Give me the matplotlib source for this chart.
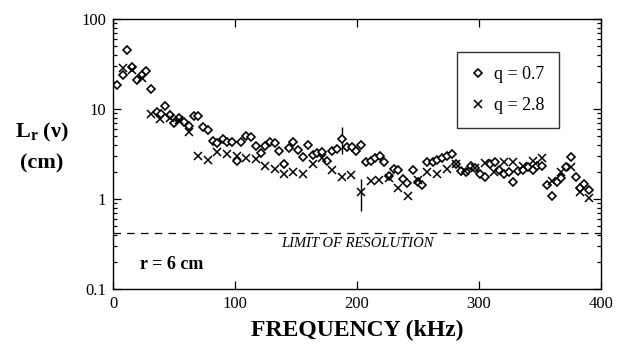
import matplotlib
matplotlib.use("Agg")
import matplotlib.pyplot as plt
from matplotlib.lines import Line2D

# ---- data ----
freq_q07 = [3.0, 8.0, 11.7, 15.6, 19.4, 23.5, 26.8, 30.9, 35.8, 39.5, 42.6, 46.7, 50.2, 54.3,
            58.2, 62.3, 66.4, 69.9, 74.0, 77.6, 81.7, 85.5, 89.9, 93.7, 97.3, 101.4, 104.9,
            109.0, 113.1, 117.0, 121.1, 124.6, 128.7, 132.8, 136.3, 140.2, 144.3, 147.8,
            151.9, 156.0, 159.6, 163.7, 167.5, 171.6, 175.7, 179.8, 183.9, 187.5, 191.6,
            195.7, 199.2, 203.0, 207.1, 211.2, 214.8, 218.9, 222.4, 226.5, 230.3, 233.9,
            238.0, 241.2, 245.6, 250.3, 253.0, 257.6, 262.0, 265.8, 269.4, 273.5, 277.6,
            281.1, 285.0, 289.3, 293.2, 296.7, 300.8, 304.9, 309.0, 313.1, 316.7, 320.5,
            324.8, 328.1, 332.2, 335.8, 339.9, 344.0, 347.8, 351.4, 355.5, 359.6, 363.7,
            367.2, 371.3, 375.2, 379.3, 382.8, 386.3, 390.2]
L_q07 = [18.5, 23.9, 45.6, 29, 21.2, 24, 26.7, 16.7, 9.3, 8.9, 10.9, 8.6, 7.0, 7.9,
         7.2, 6.4, 8.4, 8.3, 6.35, 5.8, 4.45, 4.16, 4.7, 4.33, 4.26, 2.62, 4.33,
         4.97, 4.85, 3.85, 3.25, 3.85, 4.26, 4.2, 3.45, 2.45, 3.66, 4.33,
         3.53, 2.9, 3.98, 3.08, 3.25, 3.36, 2.62, 3.45, 3.6, 4.64, 3.76,
         3.8, 3.45, 4.0, 2.56, 2.66, 2.83, 2.98, 2.56, 1.81, 2.15, 2.1,
         1.67, 1.51, 2.1, 1.56, 1.43, 2.6, 2.6, 2.71, 2.88, 2.98, 3.16,
         2.45, 2.06, 1.98, 2.34, 2.19, 1.9, 1.74, 2.45, 2.6, 2.12, 1.9,
         2.01, 1.53, 2.06, 2.12, 2.25, 2.12, 2.34, 2.34, 1.43, 1.09, 1.53,
         1.7, 2.25, 2.95, 1.77, 1.31, 1.47, 1.26]

freq_q28 = [8.0, 15.6, 23.5, 30.9, 38.5, 46.7, 54.3, 62.3, 69.9, 77.6, 85.5, 93.2, 101.4,
            109.0, 117.0, 124.6, 132.8, 140.2, 147.8, 156.0, 163.7, 171.6, 179.3, 187.5,
            194.8, 203.0, 211.2, 218.3, 226.5, 233.9, 242.0, 250.3, 257.6, 265.8, 273.5,
            281.1, 288.5, 296.7, 304.9, 312.3, 320.5, 328.1, 335.8, 344.0, 351.4, 359.6,
            367.2, 375.2, 382.8, 390.2]
L_q28 = [28.3, 27, 22, 8.7, 7.7, 8.0, 7.6, 5.6, 3.03, 2.73, 3.3, 3.16, 3.03,
         2.83, 2.78, 2.34, 2.15, 1.9, 1.98, 1.9, 2.45, 2.83, 2.12, 1.74,
         1.86, 1.19, 1.58, 1.64, 1.7, 1.31, 1.09, 1.64, 2.01, 1.9, 2.15,
         2.45, 2.06, 2.2, 2.49, 2.01, 2.56, 2.6, 2.34, 2.66, 2.83, 1.6,
         2.01, 2.25, 1.19, 1.02]

# error bars (one per series)
err_freq = [187.5, 203.0]
err_low = [3.16, 0.74]
err_high = [6.26, 1.67]

resolution_limit = 0.42
legend_labels = ["q = 0.7", "q = 2.8"]
x_ticks = [0, 100, 200, 300, 400]
y_ticks = [0.1, 1, 10, 100]
y_ticklabels = ["0.1", "1", "10", "100"]

# ---- figure ----
plt.rcParams['font.family'] = ['Liberation Serif', 'DejaVu Serif']
plt.rcParams['mathtext.fontset'] = 'custom'
plt.rcParams['mathtext.rm'] = 'Liberation Serif'
plt.rcParams['mathtext.bf'] = 'Liberation Serif:bold'

fig = plt.figure(figsize=(6.24, 3.47), dpi=100)
ax = fig.add_axes([113/624, 1 - 289/347, 488/624, 270/347])

ax.set_yscale('log')
ax.set_xlim(0, 400)
ax.set_ylim(0.1, 100)

ax.plot(freq_q07, L_q07, linestyle='none', marker='D', markersize=4.2,
        markerfacecolor='white', markeredgecolor='black', markeredgewidth=1.2, zorder=3)
ax.plot(freq_q28, L_q28, linestyle='none', marker='x', markersize=6,
        color='black', markeredgewidth=1.1, zorder=3)
ax.vlines(err_freq, err_low, err_high, color='black', linewidth=1.0, zorder=2)

ax.axhline(resolution_limit, color='black', linestyle=(0, (6, 5)), linewidth=0.9)
ax.text(200, 0.32, "LIMIT OF RESOLUTION", style='italic', fontsize=10.5,
        ha='center', va='center')
ax.text(22, 0.185, "r = 6 cm", fontweight='bold', fontsize=13, ha='left', va='center')

ax.set_xticks(x_ticks)
ax.set_xticklabels([str(t) for t in x_ticks], fontsize=12)
ax.set_yticks(y_ticks)
ax.set_yticklabels(y_ticklabels, fontsize=12)
ax.tick_params(which='both', direction='in', top=True, right=True, width=0.9)
ax.tick_params(which='major', length=6, pad=5)
ax.tick_params(which='minor', length=3)
for s in ax.spines.values():
    s.set_linewidth(1.0)

ax.set_xlabel("FREQUENCY (kHz)", fontsize=17, fontweight='bold', labelpad=6)
fig.text(42/624, 1 - 132/347, r"$\mathbf{L_r}$ (ν)", fontsize=16, fontweight='bold',
         ha='center', va='center')
fig.text(42/624, 1 - 163/347, "(cm)", fontsize=16, fontweight='bold',
         ha='center', va='center')

handles = [Line2D([], [], linestyle='none', marker='D', markersize=4.2, markerfacecolor='white',
                  markeredgecolor='black', markeredgewidth=1.2),
           Line2D([], [], linestyle='none', marker='x', markersize=6, color='black',
                  markeredgewidth=1.1)]
leg = ax.legend(handles, legend_labels, loc='upper left', bbox_to_anchor=(0.704, 0.878),
                fontsize=13, frameon=True, fancybox=False, edgecolor='black',
                handlelength=0.8, handletextpad=0.5, labelspacing=0.75,
                borderpad=0.8, borderaxespad=0)
leg.get_frame().set_linewidth(1.0)

fig.savefig("out.png", dpi=100)
